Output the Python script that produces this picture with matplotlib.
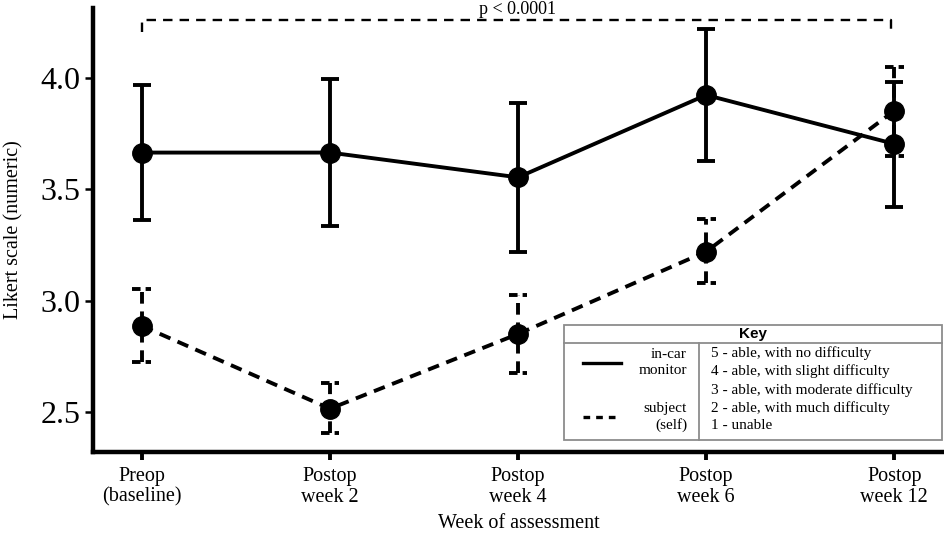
import numpy as np
import matplotlib
matplotlib.use('Agg')
import matplotlib.pyplot as plt
from matplotlib.patches import Rectangle

plt.rcParams['font.family'] = ['Liberation Serif', 'DejaVu Serif']

# data
weeks = ['Preop\n(baseline)', 'Postop\nweek 2', 'Postop\nweek 4', 'Postop\nweek 6', 'Postop\nweek 12']
monitor_mean = [3.664, 3.664, 3.553, 3.922, 3.703]
monitor_lo = [3.362, 3.337, 3.219, 3.628, 3.422]
monitor_hi = [3.967, 3.993, 3.888, 4.218, 3.981]
self_mean = [2.887, 2.516, 2.851, 3.220, 3.851]
self_lo = [2.724, 2.409, 2.678, 3.081, 3.650]
self_hi = [3.053, 2.630, 3.025, 3.365, 4.047]
p_text = 'p < 0.0001'
p_level = 4.259
p_drop = 4.205

key_left = ['in-car\nmonitor', 'subject\n(self)']
key_right = ['5 - able, with no difficulty',
             '4 - able, with slight difficulty',
             '3 - able, with moderate difficulty',
             '2 - able, with much difficulty',
             '1 - unable']

x = np.arange(len(weeks))
dash = (0, (3, 2))
lw = 2.8

fig = plt.figure(figsize=(9.45, 5.36), dpi=100)
ax = fig.add_axes([93/945, 84/536, 852/945, 444/536])

# in-car monitor
m = np.array(monitor_mean)
ax.errorbar(x, m, yerr=[m - np.array(monitor_lo), np.array(monitor_hi) - m],
            color='black', lw=lw, elinewidth=lw, capsize=6.5, capthick=lw,
            marker='o', markersize=14, zorder=3)

# subject (self) - dashed line, dashed bars
s = np.array(self_mean)
ax.plot(x, s, color='black', lw=lw, linestyle=dash, marker='o', markersize=14, zorder=3)
ax.vlines(x, self_lo, self_hi, color='black', lw=lw, linestyles=[dash], zorder=2)
ax.hlines(self_lo, x - 0.05, x + 0.05, color='black', lw=lw, linestyles=[(0, (2.2, 1.3))], zorder=2)
ax.hlines(self_hi, x - 0.05, x + 0.05, color='black', lw=lw, linestyles=[(0, (2.2, 1.3))], zorder=2)

# significance bracket
bx = [x[0], x[0], x[-1] - 0.015, x[-1] - 0.015]
by = [p_drop, p_level, p_level, p_drop]
ax.plot(bx, by, color='black', lw=1.7, linestyle=(0, (4, 3)))
ax.text((x[0] + x[-1]) / 2, p_level + 0.008, p_text, ha='center', va='bottom', fontsize=13)

ax.set_xlim(-0.26, 4.27)
ax.set_ylim(2.322, 4.312)
ax.set_xticks(x)
ax.set_xticklabels(weeks, fontsize=14.5, linespacing=1.1)
ax.set_yticks([2.5, 3.0, 3.5, 4.0])
ax.set_yticklabels(['2.5', '3.0', '3.5', '4.0'], fontsize=23)
ax.tick_params(axis='x', length=6, width=lw, pad=5)
ax.tick_params(axis='y', length=6, width=1.8, pad=3)
for side in ['top', 'right']:
    ax.spines[side].set_visible(False)
for side in ['left', 'bottom']:
    ax.spines[side].set_linewidth(3.2)

fig.text(519/945, 1 - 524/536, 'Week of assessment', ha='center', va='center', fontsize=14.5)
fig.text(14/945, 1 - 230/536, 'Likert scale (numeric)', ha='center', va='center',
         rotation=90, fontsize=14.5)

# key box drawn in pixel coordinates
ov = fig.add_axes([0, 0, 1, 1], zorder=5)
ov.set_xlim(0, 945)
ov.set_ylim(536, 0)
ov.axis('off')
grey = '#8c8c8c'
ov.add_patch(Rectangle((564, 325), 378, 115, facecolor='white', edgecolor=grey, lw=1.3))
ov.plot([564, 942], [343, 343], color=grey, lw=1.3)
ov.plot([699, 699], [343, 440], color=grey, lw=1.3)
ov.text(753, 334, 'Key', ha='center', va='center', fontsize=11, fontweight='bold',
        family='Liberation Sans')
ov.plot([583, 621], [363, 363], color='black', lw=2.4)
ov.plot([583, 621], [417, 417], color='black', lw=2.4, linestyle=(0, (2, 1.8)))
ov.text(687, 362.5, key_left[0], ha='right', va='center', fontsize=11, linespacing=1.25)
ov.text(687, 417, key_left[1], ha='right', va='center', fontsize=11, linespacing=1.25)
for i, t in enumerate(key_right):
    ov.text(711, 353.5 + i * 18.1, t, ha='left', va='center', fontsize=11)

fig.savefig('out.png', dpi=100)
